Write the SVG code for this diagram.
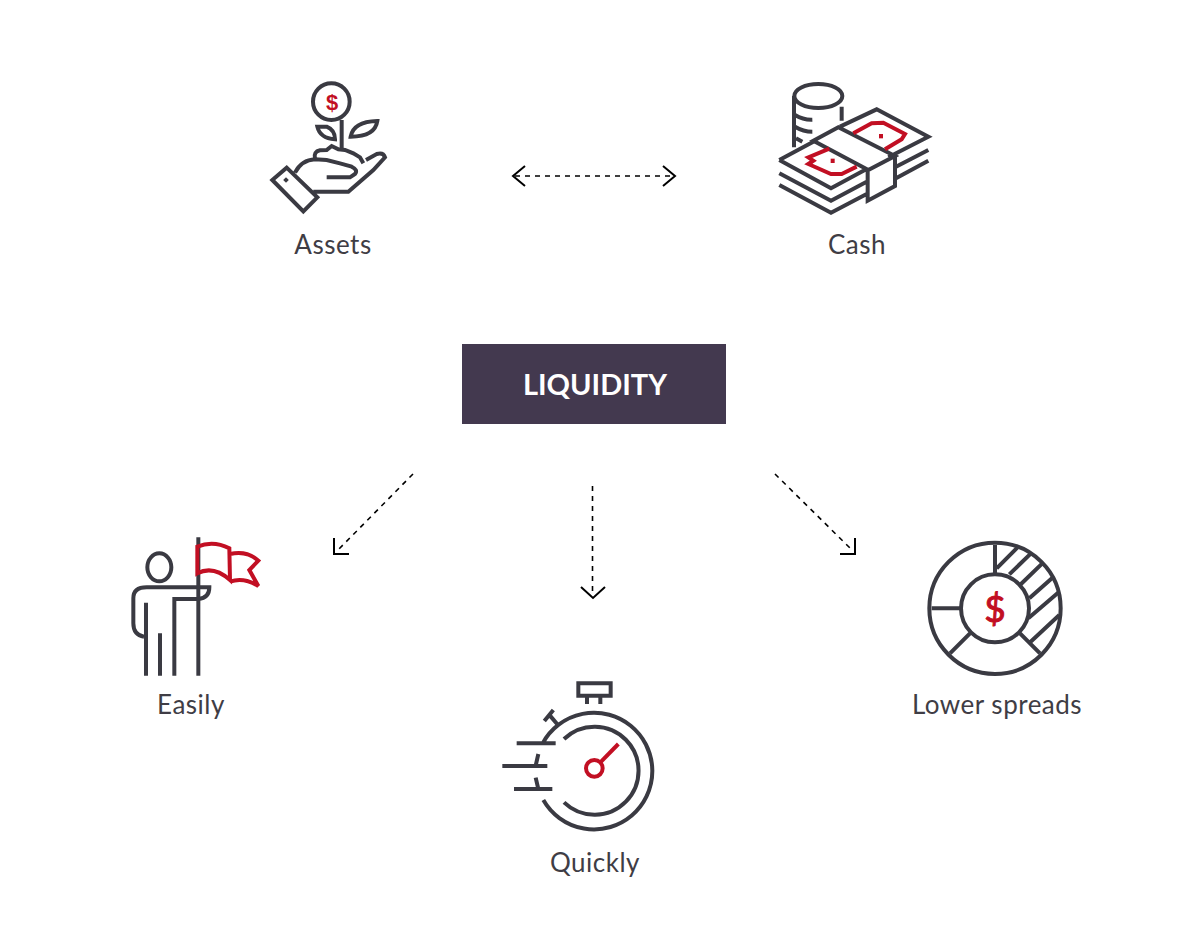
<svg xmlns="http://www.w3.org/2000/svg" width="1202" height="928" viewBox="0 0 1202 928">
<style>
.i{fill:none;stroke:#3a3a42;stroke-width:12;stroke-linejoin:miter;stroke-linecap:butt}
.r{fill:none;stroke:#c20f23;stroke-width:12}
.d{fill:#c20f23}
.lb{font-family:Lato,"Noto Sans",sans-serif;font-size:26px;letter-spacing:.5px;fill:#3f3d45;text-anchor:middle}
.c{fill:none;stroke:#000;stroke-width:1.6;stroke-dasharray:5 5}
.h{fill:none;stroke:#000;stroke-width:2}
</style>
<rect width="1202" height="928" fill="#fff"/>
<g id="connectors">
<path class="c" d="M515 176H673"/><path class="h" d="M525 166L513 176L525 186M663 166L675 176L663 186"/>
<path class="c" d="M413 474L337 551"/><path class="h" d="M334 538V554H349"/>
<path class="c" d="M592.500 486V596"/><path class="h" d="M581 587L593 598L605 587"/>
<path class="c" d="M775 474L853 551"/><path class="h" d="M855 538V554H840"/>
</g>
<g id="assets">
<g transform="translate(260 70) scale(.33333)">
<circle class="i" cx="214" cy="95" r="55"/>
<path class="i" d="M245 150V236M272 200Q280 155 352 153Q345 200 272 200ZM172 170H200Q225 180 225 208Q180 205 172 170Z"/>
<path class="i" d="M165 266Q160 245 180 241L200 240L215 228L235 238L255 240L280 250L300 262L310 280"/>
<path class="i" d="M37 330L80 293L172 382L130 424ZM105 308Q125 270 165 268L200 270L240 280L275 290Q295 300 285 312L270 322H200M160 365H265L340 300L375 262Q370 246 350 252L318 270"/>
<rect x="72" y="324" width="12" height="12" fill="#3a3a42" transform="rotate(45 78 330)"/>
</g>
<text x="332" y="110" font-family="Liberation Sans,sans-serif" font-size="22" font-weight="700" fill="#c20f23" text-anchor="middle">$</text>
<text class="lb" x="333" y="254">Assets</text>
</g>
<g id="cash">
<g transform="translate(770 70) scale(.33333)">
<ellipse class="i" cx="145" cy="78" rx="72" ry="36"/>
<path class="i" d="M72 78V232M215 110V152M75 135Q100 150 127 149M75 170Q100 185 127 185M78 205L97 215"/>
<path class="i" d="M210 170L320 118L475 200L355 262M28 270L130 215M28 270L183 355L290 297M130 212L205 172L375 258L295 300ZM375 258V348L293 392V300M475 240L378 290M475 272L378 325M28 310L183 392L290 335M28 345L183 428L290 372"/>
<path class="r" d="M250 190L305 160L340 158L405 192L395 208L345 238M178 236L115 262L130 272L115 282L183 312L215 312L260 290"/>
<rect class="d" x="327" y="192" width="12" height="13"/><rect class="d" x="182" y="266" width="12" height="13"/>
</g>
<text class="lb" x="857" y="254">Cash</text>
</g>
<g id="liquidity">
<rect x="462" y="344" width="264" height="80" fill="#43394f"/>
<text x="595" y="395" font-family="Lato,sans-serif" font-size="29" font-weight="700" fill="#fff" text-anchor="middle">LIQUIDITY</text>
</g>
<g id="easily">
<g transform="translate(120 530) scale(.33333)">
<ellipse class="i" cx="118" cy="112" rx="36" ry="42"/>
<path class="i" d="M72 320Q40 315 40 280V205Q40 172 80 172H268Q268 205 235 207H163V437M78 218V437M120 310V437"/>
<path class="i" stroke-linecap="round" d="M235 22V437"/>
<path class="r" d="M232 50Q280 30 328 55L330 150Q280 105 232 130ZM330 72Q380 60 415 92L388 120L415 168Q370 140 330 155"/>
</g>
<text class="lb" x="191" y="714">Easily</text>
</g>
<g id="quickly">
<g transform="translate(495 675) scale(.33333)">
<path class="i" d="M250 25H347V62H250ZM276 62V87M316 62V87M175 105L148 138M165 122L187 148"/>
<path class="i" d="M143 205A175 175 0 1 1 145 375M207 192A132 132 0 1 1 207 382M130 237L122 272M122 308L130 342M65 205H182M22 273H157M57 342H172"/>
<circle class="r" cx="298" cy="280" r="25"/>
<path class="r" d="M316 262L370 207"/>
</g>
<text class="lb" x="595" y="872">Quickly</text>
</g>
<g id="lower-spreads">
<g transform="translate(920 535) scale(.33333)">
<circle class="i" cx="225" cy="220" r="197"/><circle class="i" cx="225" cy="220" r="102"/>
<path class="i" d="M225 30V118M35 220H122M150 295L90 355M300 295L360 355M230 100L292 38M268 118L333 55M300 150L367 85M328 190L400 126M325 250L416 172M332 320L418 240"/>
</g>
<text x="995" y="622" font-family="Lato,sans-serif" font-size="37" fill="#c20f23" stroke="#c20f23" stroke-width="1" text-anchor="middle">$</text>
<text class="lb" x="997" y="714">Lower spreads</text>
</g>
</svg>
